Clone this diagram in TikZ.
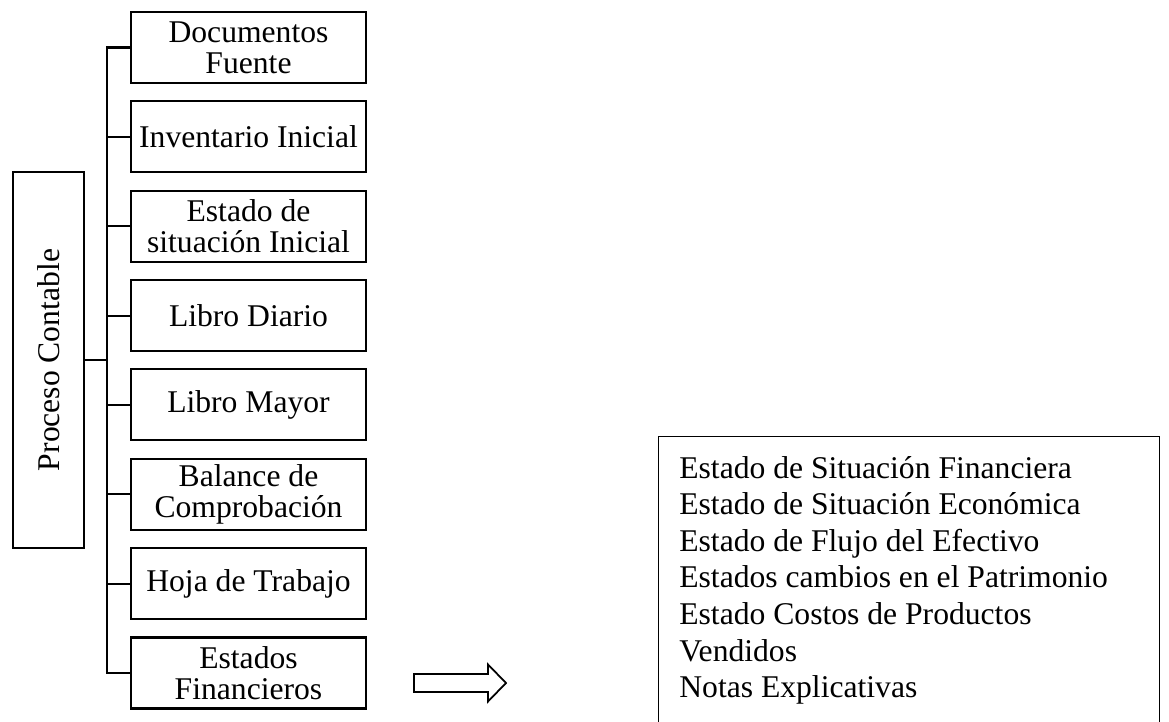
\documentclass[tikz,border=0pt]{standalone}
\usepackage{fontspec}
\setmainfont{Liberation Serif}
\tikzset{
  caja/.style={draw, line width=1.2pt, minimum width=4.7cm, minimum height=1.42cm, inner sep=0pt, align=center, font=\fontsize{18}{17.6}\selectfont},
  rama/.style={line width=1.2pt},
}

\begin{document}
\begin{tikzpicture}[x=0.02cm, y=-0.02cm]
			%%%%% MARCO %%%%%
			\useasboundingbox (0, 0) rectangle (1169, 722);
			
			\node[draw, line width=1.2pt, minimum width=1.43cm, minimum height=7.52cm, inner sep=0pt, font=\fontsize{18}{18}\selectfont] (pc) at (48.5, 360) {\rotatebox{90}{Proceso Contable}};
			\coordinate (tronco) at (107, 360);
			
			\node[caja] (doc) at (248.5, 47.5) {Documentos\\Fuente};
			\node[caja] (inv) at (248.5, 136.9) {Inventario Inicial};
			\node[caja] (esi) at (248.5, 226.2) {Estado de\\situación Inicial};
			\node[caja] (ldi) at (248.5, 315.6) {Libro Diario};
			\node[caja] (lma) at (248.5, 404.9) {Libro Mayor};
			\node[caja] (bal) at (248.5, 494.3) {Balance de\\Comprobación};
			\node[caja] (hoj) at (248.5, 583.7) {Hoja de Trabajo};
			\node[caja] (efi) at (248.5, 673) {Estados\\Financieros};
			
			\draw[rama] (pc.east) -- (tronco);
			\draw[rama] (tronco) |- (doc.west);
			\draw[rama] (tronco) |- (inv.west);
			\draw[rama] (tronco) |- (esi.west);
			\draw[rama] (tronco) |- (ldi.west);
			\draw[rama] (tronco) |- (lma.west);
			\draw[rama] (tronco) |- (bal.west);
			\draw[rama] (tronco) |- (hoj.west);
			\draw[rama] (tronco) |- (efi.west);
			
			% flecha hueca
			\coordinate (flecha) at (414, 683);
			\draw[line width=1pt, line join=miter] (flecha) ++(0, -9) -- ++(74, 0) -- ++(0, -9.5) -- ++(18, 18.5) -- ++(-18, 18.5) -- ++(0, -9.5) -- ++(-74, 0) -- cycle;
			
			\node[draw, line width=0.8pt, anchor=north west, minimum width=10.02cm, minimum height=6cm, inner sep=0pt] (marco) at (658, 436) {};
			\node[anchor=north west, align=left, inner sep=0pt, font=\fontsize{18}{20.8}\selectfont] (lista) at (679, 456) {Estado de Situación Financiera\\Estado de Situación Económica\\Estado de Flujo del Efectivo\\Estados cambios en el Patrimonio\\Estado Costos de Productos\\Vendidos\\Notas Explicativas};
			
			%%%%% FIN %%%%%
\end{tikzpicture}
\end{document}
